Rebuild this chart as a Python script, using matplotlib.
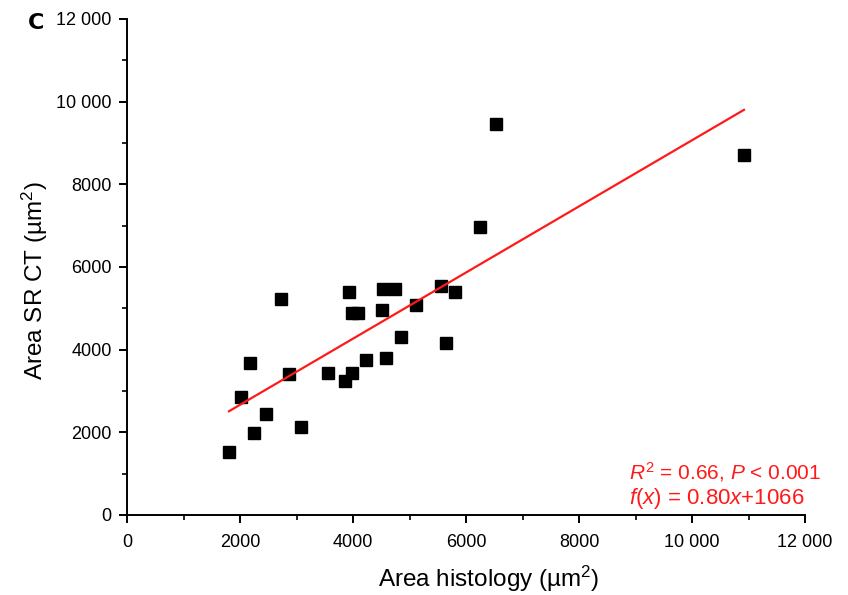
import matplotlib.pyplot as plt
from matplotlib.ticker import MultipleLocator, FuncFormatter
import numpy as np

plt.rcParams['font.family'] = ['Liberation Sans', 'DejaVu Sans']
plt.rcParams['mathtext.fontset'] = 'custom'
plt.rcParams['mathtext.rm'] = 'Liberation Sans'
plt.rcParams['mathtext.it'] = 'Liberation Sans:italic'

# area measured on histology (um^2)
area_histology = [1805, 2020, 2177, 2248, 2460, 2726, 2867, 3080, 3558, 3858,
                  3929, 3982, 3982, 4088, 4230, 4513, 4531, 4584, 4743, 4850,
                  5115, 5558, 5646, 5805, 6248, 6531, 10920]
# area measured on SR CT (um^2)
area_srct = [1524, 2850, 3678, 1984, 2444, 5226, 3412, 2129, 3436, 3242,
             5396, 3436, 4888, 4888, 3750, 4960, 5468, 3799, 5468, 4307,
             5081, 5541, 4162, 5396, 6968, 9461, 8711]

slope = 0.80
intercept = 1066

fig = plt.figure(figsize=(8.48, 5.95), dpi=100)
ax = fig.add_axes([0.1498, 0.1345, 0.7995, 0.8336])

ax.plot(area_histology, area_srct, 's', color='black', markersize=8.5)

# regression line over the data range
xfit = np.array([min(area_histology), max(area_histology)])
ax.plot(xfit, slope * xfit + intercept, color='#ff1a1a', linewidth=1.6)

ax.set_xlim(0, 12000)
ax.set_ylim(0, 12000)

def fmt(v, pos):
    v = int(round(v))
    if v >= 10000:
        return '{:,}'.format(v).replace(',', ' ')
    return str(v)

for axis in (ax.xaxis, ax.yaxis):
    axis.set_major_locator(MultipleLocator(2000))
    axis.set_minor_locator(MultipleLocator(1000))
    axis.set_major_formatter(FuncFormatter(fmt))

ax.spines['top'].set_visible(False)
ax.spines['right'].set_visible(False)
ax.spines['left'].set_linewidth(1.4)
ax.spines['bottom'].set_linewidth(1.4)
ax.tick_params(which='major', direction='out', length=6, width=1.4,
               labelsize=13, colors='black')
ax.tick_params(which='minor', direction='out', length=3.5, width=1.2)
ax.tick_params(axis='x', pad=8)
ax.tick_params(axis='y', pad=5)

ax.set_xlabel('Area histology (µm$^2$)', fontsize=17.5)
ax.set_ylabel('Area SR CT (µm$^2$)', fontsize=17.5)
ax.xaxis.set_label_coords(0.534, -0.098)
ax.yaxis.set_label_coords(-0.113, 0.472)

ax.text(8880, 1030, '$R^2$ = 0.66, $P$ < 0.001',
        ha='left', va='center', color='#ff1a1a', fontsize=15)
ax.text(8880, 410, '$f$($x$) = 0.80$x$+1066',
        ha='left', va='center', color='#ff1a1a', fontsize=16)

fig.text(0.042, 0.962, 'C', fontsize=16, fontweight='bold',
         family='DejaVu Sans', ha='center', va='center')

plt.savefig('out.png', dpi=100)
